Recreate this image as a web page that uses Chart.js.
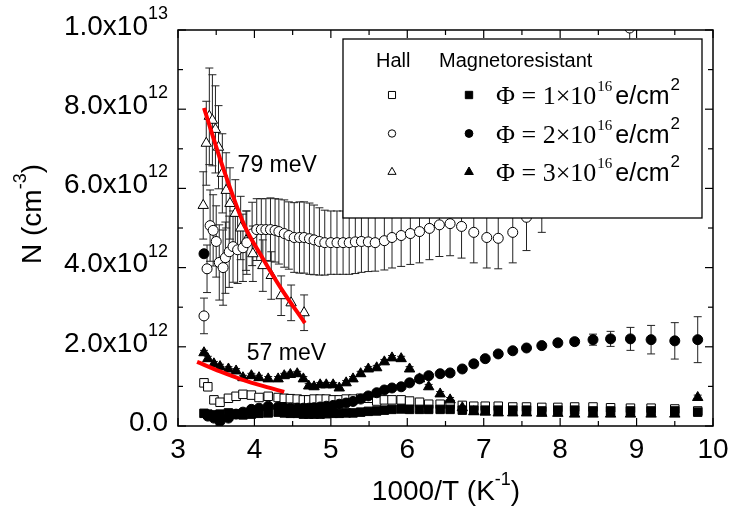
<!DOCTYPE html>
<html>
<head>
<meta charset="utf-8">
<script src="https://cdn.jsdelivr.net/npm/chart.js@4/dist/chart.umd.min.js"></script>
<style>
  html, body { margin: 0; padding: 0; background: #fff; }
  #wrap { width: 730px; height: 523px; }
</style>
</head>
<body>
<div id="wrap"><canvas id="myChart" width="730" height="523"></canvas></div>
<script>
const SANS = "'Liberation Sans', Arial, sans-serif";
const SERIF = "'Liberation Serif', 'Times New Roman', serif";

// axis ticks (y in units of 1e12 cm^-3)
const xTicks = [3, 4, 5, 6, 7, 8, 9, 10];
const xMinor = [3.5, 4.5, 5.5, 6.5, 7.5, 8.5, 9.5];
const yTicks = [0, 2, 4, 6, 8, 10];
const yMinor = [1, 3, 5, 7, 9];
const yTickMant = ['0.0', '2.0x10', '4.0x10', '6.0x10', '8.0x10', '1.0x10'];
const yTickExp = ['', '12', '12', '12', '12', '13'];

// 1000/T values shared by the square / filled series
const gridX = [3.34, 3.39, 3.47, 3.55, 3.66, 3.76, 3.85, 3.96, 4.06, 4.18, 4.31, 4.39, 4.47, 4.56, 4.64, 4.71, 4.78,
  4.86, 4.94, 5.03, 5.11, 5.20, 5.29, 5.39, 5.49, 5.60, 5.70, 5.80, 5.92, 6.03, 6.16, 6.28, 6.43, 6.56, 6.72,
  6.87, 7.02, 7.19, 7.38, 7.56, 7.76, 7.97, 8.19, 8.43, 8.66, 8.92, 9.19, 9.50, 9.80];

// Magnetoresistant, 3x10^16
const mrTriY = [1.85, 1.70, 1.57, 1.50, 1.44, 1.39, 1.22, 1.27, 1.22, 1.19, 1.19, 1.27, 1.30, 1.32, 1.19, 1.01, 0.99,
  1.04, 1.04, 1.04, 0.96, 1.09, 1.19, 1.32, 1.44, 1.47, 1.62, 1.72, 1.70, 1.44, 1.19, 0.99, 0.81, 0.66, 0.46,
  0.36, 0.35, 0.33, 0.33, 0.33, 0.32, 0.32, 0.30, 0.30, 0.30, 0.30, 0.30, 0.30, 0.72];
// Magnetoresistant, 1x10^16
const mrSqY = [0.32, 0.30, 0.28, 0.30, 0.33, 0.30, 0.28, 0.30, 0.32, 0.33, 0.35, 0.33, 0.32, 0.32, 0.30, 0.30, 0.30,
  0.30, 0.31, 0.32, 0.32, 0.33, 0.33, 0.35, 0.37, 0.38, 0.40, 0.42, 0.43, 0.42, 0.42, 0.42, 0.42, 0.42, 0.40,
  0.40, 0.40, 0.40, 0.40, 0.40, 0.38, 0.40, 0.40, 0.38, 0.38, 0.38, 0.38, 0.38, 0.35];
// Hall, 1x10^16
const hallSqY = [1.09, 0.99, 0.66, 0.60, 0.70, 0.75, 0.80, 0.78, 0.72, 0.75, 0.72, 0.70, 0.69, 0.68, 0.66, 0.66, 0.68,
  0.68, 0.68, 0.66, 0.66, 0.68, 0.68, 0.70, 0.70, 0.63, 0.66, 0.66, 0.66, 0.63, 0.60, 0.55, 0.55, 0.55, 0.52,
  0.50, 0.50, 0.50, 0.48, 0.48, 0.47, 0.47, 0.48, 0.48, 0.46, 0.45, 0.45, 0.43, 0.38];
// Magnetoresistant, 2x10^16
const mrCircY = [4.35, 0.25, 0.20, 0.12, 0.20, 0.30, 0.35, 0.42, 0.45, 0.50, 0.48, 0.46, 0.45, 0.45, 0.45, 0.45, 0.46,
  0.48, 0.50, 0.52, 0.55, 0.58, 0.62, 0.68, 0.76, 0.84, 0.91, 0.96, 0.99, 1.09, 1.19, 1.27, 1.32, 1.34, 1.44,
  1.57, 1.70, 1.82, 1.90, 1.97, 2.03, 2.10, 2.13, 2.18, 2.20, 2.20, 2.18, 2.15, 2.18];
const mrCircErr = [0.05, 0.05, 0.05, 0.05, 0.05, 0.05, 0.05, 0.05, 0.05, 0.05, 0.05, 0.05, 0.05, 0.05, 0.05, 0.05, 0.05,
  0.05, 0.05, 0.05, 0.05, 0.05, 0.05, 0.05, 0.05, 0.05, 0.05, 0.05, 0.05, 0.05, 0.05, 0.05, 0.05, 0.05, 0.05,
  0.05, 0.05, 0.05, 0.05, 0.05, 0.05, 0.05, 0.08, 0.14, 0.19, 0.29, 0.36, 0.46, 0.58];

// Hall, 2x10^16
const hallCircX = [3.34, 3.38, 3.42, 3.46, 3.50, 3.54, 3.59, 3.62, 3.67, 3.72, 3.78, 3.85, 3.90, 3.97, 4.03, 4.09, 4.15,
  4.21, 4.27, 4.32, 4.39, 4.45, 4.52, 4.59, 4.65, 4.72, 4.78, 4.85, 4.92, 5.00, 5.08, 5.16, 5.24, 5.32, 5.40,
  5.49, 5.58, 5.70, 5.80, 5.92, 6.04, 6.16, 6.29, 6.42, 6.56, 6.71, 6.87, 7.04, 7.19, 7.38, 7.56, 7.76, 7.97,
  8.17, 8.40, 8.64, 8.91];
const hallCircY = [2.78, 3.97, 5.06, 4.94, 4.66, 4.13, 4.00, 4.25, 4.40, 4.53, 4.45, 4.50, 4.63, 4.85, 4.96, 4.96, 4.96,
  4.96, 4.94, 4.91, 4.86, 4.81, 4.76, 4.76, 4.76, 4.73, 4.70, 4.66, 4.63, 4.63, 4.63, 4.63, 4.63, 4.65, 4.66,
  4.65, 4.63, 4.68, 4.76, 4.81, 4.86, 4.91, 4.99, 5.08, 5.11, 5.04, 4.89, 4.76, 4.74, 4.89, 5.27, 5.70, 6.30,
  7.00, 7.80, 8.80, 10.05];
const hallCircErr = [0.45, 0.60, 0.90, 0.90, 0.90, 0.95, 0.95, 0.90, 0.90, 0.90, 0.85, 0.85, 0.80, 0.80, 0.78, 0.78, 0.78,
  0.80, 0.80, 0.82, 0.85, 0.85, 0.88, 0.90, 0.90, 0.90, 0.88, 0.85, 0.82, 0.80, 0.80, 0.80, 0.80, 0.80, 0.78,
  0.75, 0.72, 0.74, 0.77, 0.78, 0.78, 0.79, 0.79, 0.80, 0.81, 0.80, 0.77, 0.77, 0.77, 0.77, 0.84, 0.81, 0.80,
  0.80, 0.80, 0.80, 0.80];

// Hall, 3x10^16
const hallTriX = [3.33, 3.37, 3.41, 3.45, 3.49, 3.53, 3.58, 3.63, 3.68, 3.75, 3.82, 3.89, 3.98, 4.11, 4.22, 4.35, 4.48, 4.65];
const hallTriY = [5.57, 7.14, 7.82, 7.72, 7.49, 7.04, 6.38, 5.95, 5.62, 5.37, 5.00, 4.68, 4.35, 4.05, 3.80, 3.29, 3.11, 2.86];
const hallTriErr = [0.85, 1.06, 1.22, 1.15, 1.10, 1.05, 1.00, 0.95, 0.90, 0.85, 0.80, 0.75, 0.70, 0.65, 0.60, 0.50, 0.45, 0.45];

// red fits
const fit79X = [3.34, 3.60, 3.87, 4.11, 4.35, 4.66];
const fit79Y = [8.03, 6.46, 5.06, 4.23, 3.47, 2.60];
const fit57X = [3.25, 3.55, 3.83, 4.13, 4.39];
const fit57Y = [1.62, 1.38, 1.18, 1.00, 0.86];

const notes = [
  { text: '79 meV', x: 3.78, y: 6.57 },
  { text: '57 meV', x: 3.90, y: 1.82 },
];

function pts(xs, ys) {
  return xs.map((v, i) => ({ x: v, y: ys[i] }));
}
function same(n, v) {
  return new Array(n).fill(v);
}

function marker(style, filled, r) {
  return {
    showLine: false,
    pointStyle: style,
    pointRadius: r,
    pointHoverRadius: r,
    pointBorderWidth: 1,
    pointBackgroundColor: filled ? '#000' : '#fff',
    pointBorderColor: '#000',
  };
}

const legendRows = [
  { n: '1', style: 'rect', r: 5, cr: 5.2 },
  { n: '2', style: 'circle', r: 3.7, cr: 3.9 },
  { n: '3', style: 'triangle', r: 4.7, cr: 5 },
];

function line(ctx, x1, y1, x2, y2) {
  ctx.beginPath();
  ctx.moveTo(x1, y1);
  ctx.lineTo(x2, y2);
  ctx.stroke();
}

// text with a superscript part: [base, sup, tail]
function supText(ctx, x, y, parts, bigFont, smallFont, rise, align) {
  ctx.font = bigFont;
  const w1 = ctx.measureText(parts[0]).width;
  const w3 = parts[2] ? ctx.measureText(parts[2]).width : 0;
  ctx.font = smallFont;
  const w2 = ctx.measureText(parts[1]).width;
  const total = w1 + w2 + w3;
  let left = x;
  if (align === 'right') left = x - total;
  if (align === 'center') left = x - total / 2;
  ctx.textAlign = 'left';
  ctx.textBaseline = 'middle';
  ctx.font = bigFont;
  ctx.fillText(parts[0], left, y);
  ctx.font = smallFont;
  ctx.fillText(parts[1], left + w1, y - rise);
  if (parts[2]) {
    ctx.font = bigFont;
    ctx.fillText(parts[2], left + w1 + w2, y);
  }
}

const decorations = {
  id: 'decorations',
  beforeDatasetsDraw(chart) {
    const { ctx, chartArea: a, scales: { x, y } } = chart;
    ctx.save();
    ctx.beginPath();
    ctx.rect(a.left, a.top, a.right - a.left, a.bottom - a.top);
    ctx.clip();
    ctx.strokeStyle = '#222';
    ctx.lineWidth = 1;
    chart.data.datasets.forEach(ds => {
      if (!ds.errs) return;
      ds.data.forEach((p, i) => {
        const e = ds.errs[i];
        if (!e) return;
        const px = x.getPixelForValue(p.x);
        const top = y.getPixelForValue(p.y + e);
        const bot = y.getPixelForValue(p.y - e);
        line(ctx, px, top, px, bot);
        line(ctx, px - 4, top, px + 4, top);
        line(ctx, px - 4, bot, px + 4, bot);
      });
    });
    ctx.restore();
  },
  afterDatasetsDraw(chart) {
    const { ctx, chartArea: a, scales: { x, y } } = chart;
    ctx.save();
    // annotations
    ctx.fillStyle = '#000';
    ctx.font = '23px ' + SANS;
    ctx.textAlign = 'left';
    ctx.textBaseline = 'middle';
    notes.forEach(n => ctx.fillText(n.text, x.getPixelForValue(n.x), y.getPixelForValue(n.y)));

    // legend box
    const L = a.left + 165, T = a.top + 9, R = a.right - 11, B = a.top + 188;
    ctx.fillStyle = '#fff';
    ctx.fillRect(L, T, R - L, B - T);
    ctx.strokeStyle = '#000';
    ctx.lineWidth = 1.3;
    ctx.strokeRect(L, T, R - L, B - T);

    ctx.fillStyle = '#000';
    ctx.font = '20px ' + SANS;
    ctx.textBaseline = 'middle';
    ctx.fillText('Hall', L + 33, T + 22);
    ctx.fillText('Magnetoresistant', L + 96, T + 22);

    legendRows.forEach((row, i) => {
      const cy = T + 56 + i * 38.5;
      ctx.lineWidth = 1;
      ctx.strokeStyle = '#000';
      ctx.fillStyle = '#fff';
      Chart.helpers.drawPoint(ctx, { pointStyle: row.style, radius: row.r, rotation: 0, borderWidth: 1 }, L + 49, cy);
      ctx.fillStyle = '#000';
      Chart.helpers.drawPoint(ctx, { pointStyle: row.style, radius: row.cr, rotation: 0, borderWidth: 1 }, L + 126, cy);

      let tx = L + 153;
      ctx.textAlign = 'left';
      ctx.textBaseline = 'alphabetic';
      ctx.font = '26px ' + SERIF;
      const s1 = '\u03A6 = ' + row.n + '\u00D710';
      ctx.fillText(s1, tx, cy + 9);
      tx += ctx.measureText(s1).width + 1;
      ctx.font = '15px ' + SERIF;
      ctx.fillText('16', tx, cy - 4);
      tx += ctx.measureText('16').width + 3;
      ctx.font = '25px ' + SANS;
      ctx.fillText('e/cm', tx, cy + 9);
      tx += ctx.measureText('e/cm').width + 1;
      ctx.font = '17px ' + SANS;
      ctx.fillText('2', tx, cy - 5);
    });
    ctx.restore();
  },
  afterDraw(chart) {
    const { ctx, chartArea: a, scales: { x, y } } = chart;
    ctx.save();
    ctx.strokeStyle = '#000';
    ctx.lineWidth = 1.5;
    ctx.strokeRect(a.left, a.top, a.right - a.left, a.bottom - a.top);

    ctx.lineWidth = 1.2;
    xTicks.forEach(v => {
      const px = x.getPixelForValue(v);
      line(ctx, px, a.bottom, px, a.bottom - 8);
      line(ctx, px, a.top, px, a.top + 8);
    });
    xMinor.forEach(v => {
      const px = x.getPixelForValue(v);
      line(ctx, px, a.bottom, px, a.bottom - 5);
      line(ctx, px, a.top, px, a.top + 5);
    });
    yTicks.forEach(v => {
      const py = y.getPixelForValue(v);
      line(ctx, a.left, py, a.left + 8, py);
      line(ctx, a.right, py, a.right - 8, py);
    });
    yMinor.forEach(v => {
      const py = y.getPixelForValue(v);
      line(ctx, a.left, py, a.left + 5, py);
      line(ctx, a.right, py, a.right - 5, py);
    });

    ctx.fillStyle = '#000';
    ctx.font = '28px ' + SANS;
    ctx.textAlign = 'center';
    ctx.textBaseline = 'top';
    xTicks.forEach(v => ctx.fillText(String(v), x.getPixelForValue(v), a.bottom + 10));

    yTicks.forEach((v, i) => {
      const py = y.getPixelForValue(v) - 3;
      supText(ctx, a.left - 10, py, [yTickMant[i], yTickExp[i], ''], '28px ' + SANS, '18px ' + SANS, 13, 'right');
    });

    // axis titles
    supText(ctx, 446, a.bottom + 66, ['1000/T (K', '-1', ')'], '28px ' + SANS, '18px ' + SANS, 12, 'center');
    ctx.save();
    ctx.translate(33, (a.top + a.bottom) / 2 - 14);
    ctx.rotate(-Math.PI / 2);
    supText(ctx, 0, 0, ['N (cm', '-3', ')'], '28px ' + SANS, '18px ' + SANS, 12, 'center');
    ctx.restore();
    ctx.restore();
  },
};

const config = {
  type: 'scatter',
  data: {
    datasets: [
      {
        label: '79 meV',
        data: pts(fit79X, fit79Y),
        showLine: true,
        borderColor: '#ff0000',
        borderWidth: 4,
        pointRadius: 0,
        cubicInterpolationMode: 'monotone',
        order: 0,
      },
      {
        label: '57 meV',
        data: pts(fit57X, fit57Y),
        showLine: true,
        borderColor: '#ff0000',
        borderWidth: 4,
        pointRadius: 0,
        cubicInterpolationMode: 'monotone',
        order: 0,
      },
      { label: 'MR 3e16', data: pts(gridX, mrTriY), errs: same(gridX.length, 0.06), ...marker('triangle', true, 6), order: 1 },
      { label: 'MR 1e16', data: pts(gridX, mrSqY), errs: same(gridX.length, 0.05), ...marker('rect', true, 6), order: 2 },
      { label: 'MR 2e16', data: pts(gridX, mrCircY), errs: mrCircErr, ...marker('circle', true, 5), order: 2 },
      { label: 'Hall 1e16', data: pts(gridX, hallSqY), errs: same(gridX.length, 0.07), ...marker('rect', false, 6), order: 3 },
      { label: 'Hall 2e16', data: pts(hallCircX, hallCircY), errs: hallCircErr, ...marker('circle', false, 5), order: 4 },
      { label: 'Hall 3e16', data: pts(hallTriX, hallTriY), errs: hallTriErr, ...marker('triangle', false, 6), order: 5 },
    ],
  },
  options: {
    responsive: false,
    animation: false,
    devicePixelRatio: 1,
    layout: { padding: { left: 178, right: 17, top: 30, bottom: 97 } },
    plugins: { legend: { display: false }, tooltip: { enabled: false } },
    scales: {
      x: { type: 'linear', min: 3, max: 10, display: false },
      y: { type: 'linear', min: 0, max: 10, display: false },
    },
  },
  plugins: [decorations],
};

const myChart = new Chart(document.getElementById('myChart'), config);
</script>
</body>
</html>
